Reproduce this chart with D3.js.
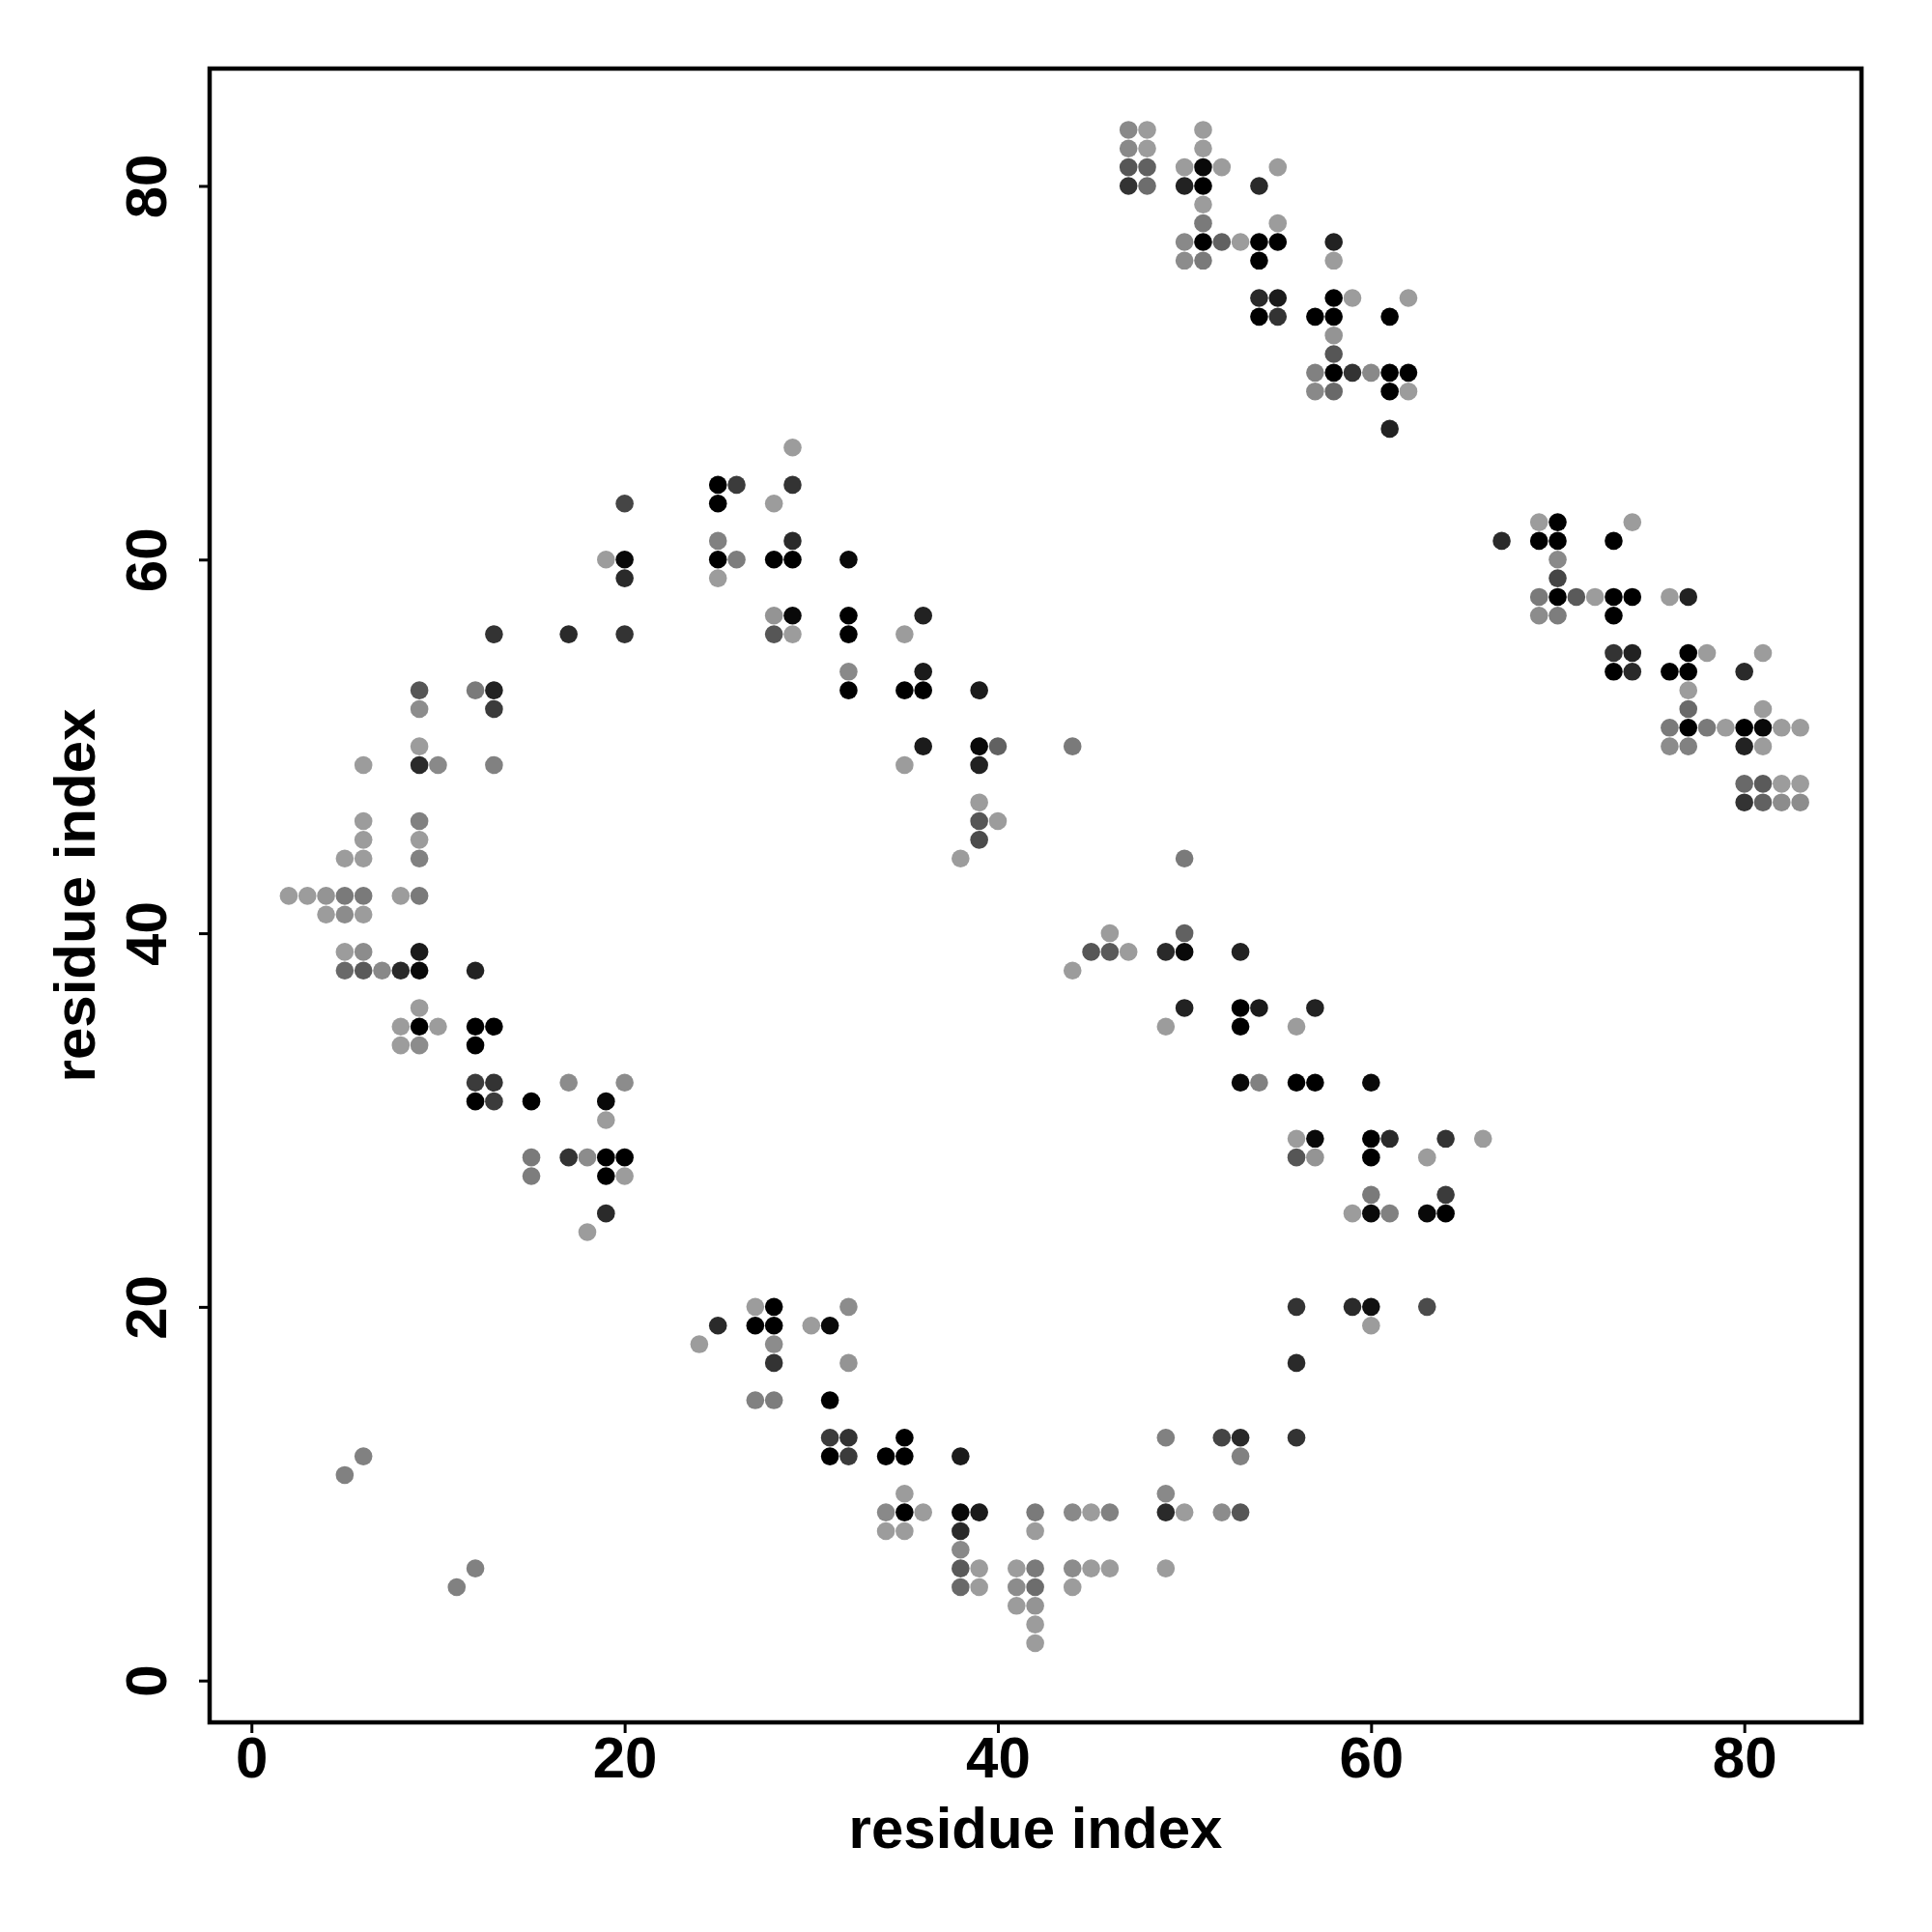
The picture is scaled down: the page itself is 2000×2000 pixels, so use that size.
<!DOCTYPE html>
<html>
<head>
<meta charset="utf-8">
<script src="https://cdn.jsdelivr.net/npm/d3@7"></script>
<style>
  html, body { margin: 0; padding: 0; background: #fff; }
  svg text { font-family: "Liberation Sans", Arial, Helvetica, sans-serif; font-weight: bold; }
</style>
</head>
<body>
<script>
// Contact map data: [residue i, residue j, contact strength 0..1]
const clusterTopRight = [
  [47,83,0.12],[48,83,0.0],[51,83,0.0],
  [47,82,0.12],[48,82,0.0],[51,82,0.0],
  [47,81,0.45],[48,81,0.38],[50,81,0.0],[51,81,0.94],[52,81,0.0],[55,81,0.0],
  [47,80,0.67],[48,80,0.3],[50,80,0.78],[51,80,1.0],[54,80,0.73],
  [51,79,0.0],
  [51,78,0.22],[55,78,0.0],
  [50,77,0.12],[51,77,1.0],[52,77,0.38],[53,77,0.0],[54,77,1.0],[55,77,1.0],[58,77,0.78],
  [50,76,0.1],[51,76,0.22],[54,76,1.0],[58,76,0.0],
  [54,74,0.73],[55,74,0.83],[58,74,1.0],[59,74,0.0],[62,74,0.0],
  [54,73,1.0],[55,73,0.67],[57,73,1.0],[58,73,1.0],[61,73,1.0],
  [58,72,0.05],
  [58,71,0.45],
  [57,70,0.17],[58,70,1.0],[59,70,0.67],[60,70,0.12],[61,70,1.0],[62,70,1.0],
  [57,69,0.12],[58,69,0.33],[61,69,1.0],[62,69,0.0],
  [61,67,0.78]
];
const clusterRight = [
  [69,62,0.0],[70,62,1.0],[74,62,0.0],
  [67,61,0.73],[69,61,1.0],[70,61,1.0],[73,61,1.0],
  [70,60,0.12],
  [70,59,0.56],
  [69,58,0.22],[70,58,1.0],[71,58,0.42],[72,58,0.0],[73,58,1.0],[74,58,1.0],[76,58,0.0],[77,58,0.78],
  [69,57,0.1],[70,57,0.2],[73,57,1.0],
  [73,55,0.67],[74,55,0.78],[77,55,1.0],[78,55,0.0],[81,55,0.0],
  [73,54,1.0],[74,54,0.73],[76,54,1.0],[77,54,1.0],[80,54,0.73],
  [77,53,0.0],
  [77,52,0.33],[81,52,0.0],
  [76,51,0.22],[77,51,1.0],[78,51,0.22],[79,51,0.0],[80,51,1.0],[81,51,0.94],[82,51,0.0],[83,51,0.0],
  [76,50,0.1],[77,50,0.17],[80,50,0.78],[81,50,0.0],
  [80,48,0.33],[81,48,0.42],[82,48,0.0],[83,48,0.0],
  [80,47,0.67],[81,47,0.38],[82,47,0.1],[83,47,0.1]
];
const clusterLeftUpper = [
  [20,63,0.56],
  [19,60,0.0],[20,60,0.94],
  [20,59,0.73],
  [13,56,0.67],[17,56,0.73],[20,56,0.67],
  [9,53,0.45],[12,53,0.22],[13,53,0.78],
  [9,52,0.1],[13,52,0.62],
  [9,50,0.0],
  [6,49,0.0],[9,49,0.73],[10,49,0.12],[13,49,0.17],
  [6,46,0.0],[9,46,0.17],
  [6,45,0.0],[9,45,0.0],
  [5,44,0.0],[6,44,0.0],[9,44,0.17],
  [2,42,0.0],[3,42,0.0],[4,42,0.05],[5,42,0.22],[6,42,0.22],[8,42,0.0],[9,42,0.22],
  [4,41,0.0],[5,41,0.1],[6,41,0.0]
];
const clusterLeftLower = [
  [5,39,0.0],[6,39,0.1],[9,39,0.83],
  [5,38,0.33],[6,38,0.42],[7,38,0.12],[8,38,0.73],[9,38,0.94],[12,38,0.78],
  [9,36,0.0],
  [8,35,0.0],[9,35,1.0],[10,35,0.0],[12,35,1.0],[13,35,1.0],
  [8,34,0.0],[9,34,0.1],[12,34,1.0],
  [12,32,0.62],[13,32,0.67],[17,32,0.1],[20,32,0.1],
  [12,31,1.0],[13,31,0.62],[15,31,1.0],[19,31,0.94],
  [19,30,0.0],
  [15,28,0.22],[17,28,0.67],[18,28,0.1],[19,28,1.0],[20,28,1.0],
  [15,27,0.2],[19,27,1.0],[20,27,0.0],
  [19,25,0.73],
  [18,24,0.0]
];
const clusterUpperDiag = [
  [29,66,0.0],
  [25,64,1.0],[26,64,0.62],[29,64,0.67],
  [25,63,1.0],[28,63,0.0],
  [25,61,0.17],[29,61,0.73],
  [25,60,1.0],[26,60,0.2],[28,60,1.0],[29,60,1.0],[32,60,0.94],
  [25,59,0.0],
  [28,57,0.05],[29,57,0.94],[32,57,1.0],[36,57,0.78],
  [28,56,0.45],[29,56,0.0],[32,56,1.0],[35,56,0.0],
  [32,54,0.12],[36,54,0.83],
  [32,53,1.0],[35,53,1.0],[36,53,1.0],[39,53,0.83],
  [36,50,0.83],[39,50,0.94],[40,50,0.38],[44,50,0.22],
  [35,49,0.0],[39,49,0.78],
  [39,47,0.0],
  [39,46,0.45],[40,46,0.0],
  [39,45,0.52],
  [38,44,0.0]
];
const clusterMiddle = [
  [50,44,0.22],
  [46,40,0.0],[50,40,0.38],
  [45,39,0.45],[46,39,0.42],[47,39,0.0],[49,39,0.73],[50,39,0.94],[53,39,0.78],
  [44,38,0.0],
  [50,36,0.78],[53,36,1.0],[54,36,0.83],[57,36,0.78],
  [49,35,0.0],[53,35,1.0],[56,35,0.0],
  [53,32,0.94],[54,32,0.17],[56,32,1.0],[57,32,1.0],[60,32,0.94],
  [56,29,0.0],[57,29,0.94],[60,29,1.0],[61,29,0.73],[64,29,0.67],[66,29,0.0],
  [56,28,0.45],[57,28,0.05],[60,28,1.0],[63,28,0.0],
  [60,26,0.22],[64,26,0.62],
  [59,25,0.0],[60,25,0.94],[61,25,0.17],[63,25,0.94],[64,25,1.0],
  [56,20,0.67],[59,20,0.73],[60,20,0.89],[63,20,0.52],
  [60,19,0.0],
  [56,17,0.73],
  [56,13,0.67]
];
const clusterBottom = [
  [27,20,0.0],[28,20,1.0],[32,20,0.1],
  [25,19,0.73],[27,19,1.0],[28,19,1.0],[30,19,0.0],[31,19,0.94],
  [24,18,0.0],[28,18,0.1],
  [28,17,0.67],[32,17,0.05],
  [27,15,0.17],[28,15,0.2],[31,15,1.0],
  [31,13,0.62],[32,13,0.67],[35,13,1.0],
  [31,12,1.0],[32,12,0.62],[34,12,1.0],[35,12,1.0],[38,12,0.83],
  [35,10,0.0],
  [34,9,0.12],[35,9,1.0],[36,9,0.0],[38,9,0.94],[39,9,0.83],
  [34,8,0.0],[35,8,0.0],[38,8,0.73],
  [38,7,0.12],
  [38,6,0.42],[39,6,0.0],
  [38,5,0.33],[39,5,0.0],
  [49,13,0.17],[52,13,0.56],[53,13,0.73],
  [53,12,0.17],
  [49,10,0.12],
  [42,9,0.22],[44,9,0.12],[45,9,0.0],[46,9,0.17],[49,9,0.73],[50,9,0.0],[52,9,0.1],[53,9,0.45],
  [42,8,0.0],
  [41,6,0.0],[42,6,0.22],[44,6,0.1],[45,6,0.0],[46,6,0.0],[49,6,0.0],
  [41,5,0.1],[42,5,0.3],[44,5,0.0],
  [41,4,0.0],[42,4,0.05],
  [42,3,0.0],
  [42,2,0.0]
];
const clusterIsolated = [
  [6,12,0.17],[5,11,0.17],[12,6,0.17],[11,5,0.17]
];
const tickValues = [0, 20, 40, 60, 80];
const xTitle = "residue index";
const yTitle = "residue index";

const allContacts = [].concat(clusterTopRight, clusterRight, clusterLeftUpper, clusterLeftLower,
  clusterUpperDiag, clusterMiddle, clusterBottom, clusterIsolated);

const W = 2000, H = 2000;
const box = { left: 217, right: 1927, top: 71, bottom: 1783 };
const domain = [-2.24, 86.28];

const svg = d3.select("body").append("svg").attr("width", W).attr("height", H);
svg.append("rect").attr("width", W).attr("height", H).attr("fill", "#fff");

const x = d3.scaleLinear().domain(domain).range([box.left, box.right]);
const y = d3.scaleLinear().domain(domain).range([box.bottom, box.top]);
const shade = d3.scaleLinear().domain([0, 1]).range(["#9c9c9c", "#000000"]);

// points
svg.append("g").selectAll("circle").data(allContacts).join("circle")
  .attr("cx", d => x(d[0]))
  .attr("cy", d => y(d[1]))
  .attr("r", 9.3)
  .attr("fill", d => shade(d[2]));

// frame
svg.append("rect")
  .attr("x", box.left).attr("y", box.top)
  .attr("width", box.right - box.left).attr("height", box.bottom - box.top)
  .attr("fill", "none").attr("stroke", "#000").attr("stroke-width", 4.5);

// x axis
const gx = svg.append("g").attr("transform", `translate(0,${box.bottom})`)
  .call(d3.axisBottom(x).tickValues(tickValues).tickSize(11).tickFormat(d3.format("d")));
gx.select(".domain").remove();
gx.selectAll(".tick line").attr("stroke", "#000").attr("stroke-width", 3);
gx.selectAll(".tick text")
  .attr("y", 57).attr("dy", 0)
  .attr("font-size", 60).attr("fill", "#000")
  .attr("font-family", "Liberation Sans, Arial, sans-serif").attr("font-weight", "bold");

// y axis
const gy = svg.append("g").attr("transform", `translate(${box.left},0)`)
  .call(d3.axisLeft(y).tickValues(tickValues).tickSize(11).tickFormat(d3.format("d")));
gy.select(".domain").remove();
gy.selectAll(".tick line").attr("stroke", "#000").attr("stroke-width", 3);
gy.selectAll(".tick text")
  .attr("x", 0).attr("dy", 0)
  .attr("transform", "translate(-45.3,0) rotate(-90)")
  .attr("text-anchor", "middle")
  .attr("font-size", 60).attr("fill", "#000")
  .attr("font-family", "Liberation Sans, Arial, sans-serif").attr("font-weight", "bold");

// titles
svg.append("text")
  .attr("x", (box.left + box.right) / 2).attr("y", 1913)
  .attr("text-anchor", "middle").attr("font-size", 60).attr("fill", "#000")
  .text(xTitle);
svg.append("text")
  .attr("transform", `translate(98.3,${(box.top + box.bottom) / 2}) rotate(-90)`)
  .attr("text-anchor", "middle").attr("font-size", 60).attr("fill", "#000")
  .text(yTitle);
</script>
</body>
</html>
